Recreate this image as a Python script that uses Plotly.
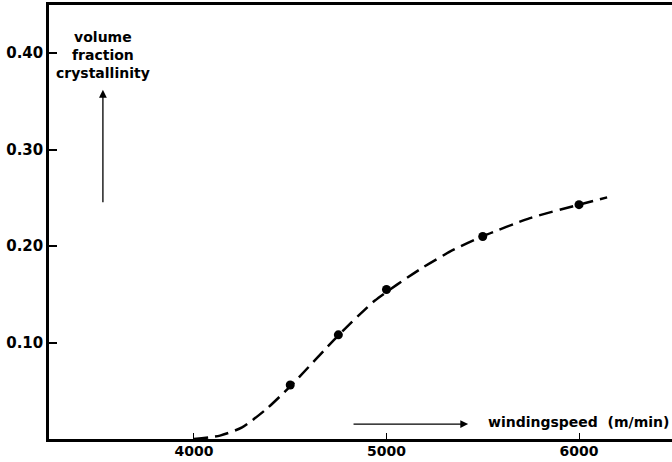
import plotly.graph_objects as go

# measured points
speed = [4500, 4750, 5000, 5500, 6000]
crystallinity = [0.056, 0.108, 0.155, 0.210, 0.243]

# drawn (dashed) curve
curve_x = [4000, 4135, 4250, 4379, 4504, 4753, 4940, 5174, 5346, 5497, 5745, 6000, 6146]
curve_y = [0.0, 0.0035, 0.012, 0.0315, 0.0554, 0.108, 0.1436, 0.176, 0.196, 0.210, 0.229, 0.243, 0.2505]

x_ticks = [4000, 5000, 6000]
y_ticks = [0.10, 0.20, 0.30, 0.40]
y_tick_labels = ["0.10", "0.20", "0.30", "0.40"]

font_family = "DejaVu Sans"

fig = go.Figure()
fig.add_trace(go.Scatter(
    x=curve_x, y=curve_y, mode="lines",
    line=dict(color="black", width=2.5, dash="14px,7px", shape="spline", smoothing=0.6),
    hoverinfo="skip", showlegend=False))
fig.add_trace(go.Scatter(
    x=speed, y=crystallinity, mode="markers",
    marker=dict(color="black", size=9), showlegend=False))

# y-label with arrow
fig.add_annotation(x=3527, y=0.398, xref="x", yref="y", text="<b>volume<br>fraction<br>crystallinity</b>",
                   showarrow=False, font=dict(family=font_family, size=14, color="black"),
                   align="center")
fig.add_annotation(x=3527, y=0.362, ax=3527, ay=0.244, xref="x", yref="y", axref="x", ayref="y",
                   showarrow=True, arrowhead=2, arrowsize=1.2, arrowwidth=1.3, arrowcolor="black", text="")
# x-label with arrow
fig.add_annotation(x=5424, y=0.0155, ax=4821, ay=0.0155, xref="x", yref="y", axref="x", ayref="y",
                   showarrow=True, arrowhead=2, arrowsize=1.2, arrowwidth=1.3, arrowcolor="black", text="")
fig.add_annotation(x=6478, y=0.0175, xref="x", yref="y", xanchor="right", yanchor="middle",
                   text="<b>windingspeed  (m/min)</b>", showarrow=False,
                   font=dict(family=font_family, size=14, color="black"))

fig.update_layout(
    width=672, height=462,
    margin=dict(l=49, r=0, t=5, b=23, autoexpand=False),
    paper_bgcolor="white", plot_bgcolor="white",
    font=dict(family=font_family, color="black"),
)
fig.update_xaxes(range=[3247, 6483], tickvals=x_ticks, ticktext=[str(v) for v in x_ticks],
                 showgrid=False, zeroline=False, showline=True, linecolor="black", linewidth=2.5,
                 mirror=True, ticks="inside", ticklen=6, tickwidth=1.2, tickcolor="black",
                 automargin=False, ticklabelstandoff=-3,
                 tickfont=dict(family=font_family, size=14, color="black", weight="bold"))
fig.update_yaxes(range=[0, 0.45], tickvals=y_ticks, ticktext=y_tick_labels,
                 showgrid=False, zeroline=False, showline=True, linecolor="black", linewidth=2.5,
                 ticks="inside", ticklen=8, tickwidth=1.5, tickcolor="black",
                 automargin=False,
                 tickfont=dict(family=font_family, size=15, color="black", weight="bold"))

fig.write_html("out.html", config={"displayModeBar": False},
               post_script="document.body.style.margin='0px';document.body.style.overflow='hidden';")
